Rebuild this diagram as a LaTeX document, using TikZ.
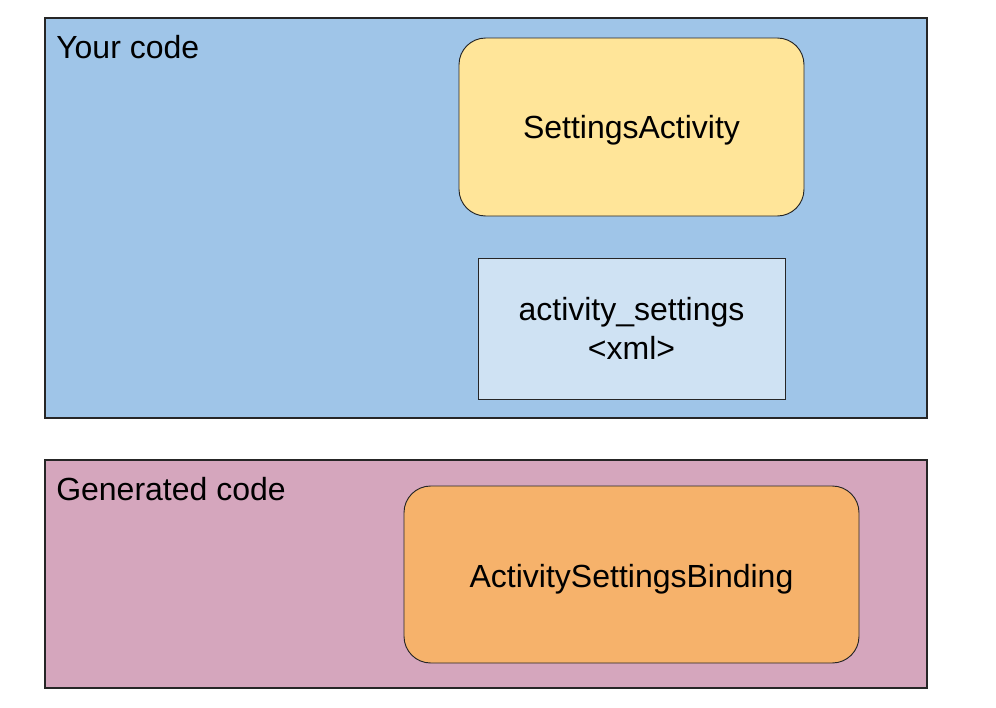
\documentclass[tikz,border=0pt]{standalone}
\usepackage{fontspec}
\setmainfont{Liberation Sans}
\definecolor{yourblue}{HTML}{9FC5E8}
\definecolor{xmlblue}{HTML}{CFE2F3}
\definecolor{actyellow}{HTML}{FFE599}
\definecolor{genpink}{HTML}{D5A6BD}
\definecolor{bindorange}{HTML}{F6B26B}
\tikzset{
  area/.style={draw=black!85, line width=0.8pt, rectangle, inner sep=0pt},
  codebox/.style={draw=black!85, line width=0.7pt, rectangle, inner sep=0pt, align=center, font=\fontsize{24}{29}\selectfont},
  roundbox/.style={codebox, rounded corners=20pt, text depth=0pt},
  arealabel/.style={anchor=base west, inner sep=0pt, font=\fontsize{24}{29}\selectfont}
}
\begin{document}
\begin{tikzpicture}[x=0.75pt, y=-0.75pt]
			%%%%% START %%%%%
			\useasboundingbox (0, 0) rectangle (996, 707);
			
			\node[area, fill=yourblue, minimum width=882*0.75pt, minimum height=400*0.75pt] (yours) at (486, 218) {};
			\node[arealabel] (yourslabel) at (56, 58) {Your code};
			
			\node[roundbox, fill=actyellow, minimum width=345*0.75pt, minimum height=178*0.75pt] (activity) at (631.5, 127) {SettingsActivity};
			
			\node[codebox, fill=xmlblue, minimum width=307*0.75pt, minimum height=141*0.75pt] (layout) at (631.5, 328.5) {activity\_settings\\<xml>};
			
			\node[area, fill=genpink, minimum width=882*0.75pt, minimum height=228*0.75pt] (generated) at (486, 574) {};
			\node[arealabel] (generatedlabel) at (56, 500) {Generated code};
			
			\node[roundbox, fill=bindorange, minimum width=455*0.75pt, minimum height=177*0.75pt] (binding) at (631.5, 574.5) {\raisebox{-2pt}{ActivitySettingsBinding}};
			%%%%% END %%%%%
\end{tikzpicture}
\end{document}
